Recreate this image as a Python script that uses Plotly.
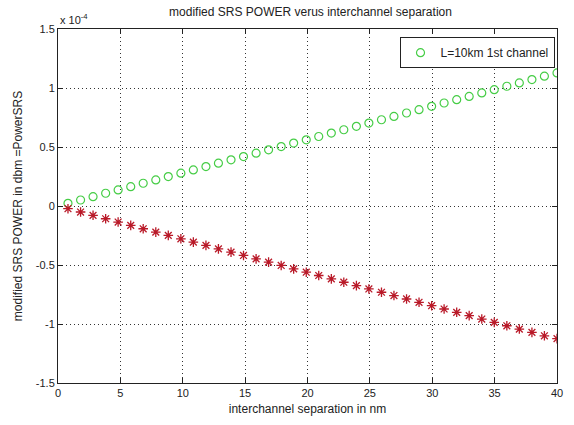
import plotly.graph_objects as go

# x positions (interchannel separation, nm)
separation_nm = [0.80, 1.81, 2.81, 3.82, 4.82, 5.83, 6.83, 7.84, 8.84, 9.85,
                 10.85, 11.86, 12.86, 13.87, 14.87, 15.88, 16.88, 17.89, 18.89, 19.90,
                 20.90, 21.91, 22.91, 23.92, 24.92, 25.93, 26.93, 27.94, 28.94, 29.95,
                 30.95, 31.96, 32.96, 33.97, 34.97, 35.98, 36.98, 37.99, 38.99, 40.00]

# green series (x 1e-4)
power_pos_e4 = [0.023, 0.051, 0.079, 0.108, 0.136, 0.164, 0.193, 0.221, 0.249, 0.278,
                0.306, 0.334, 0.363, 0.391, 0.419, 0.448, 0.476, 0.504, 0.533, 0.561,
                0.589, 0.618, 0.646, 0.675, 0.703, 0.731, 0.759, 0.788, 0.816, 0.845,
                0.873, 0.901, 0.929, 0.958, 0.986, 1.015, 1.043, 1.071, 1.100, 1.128]

# red series (x 1e-4)
power_neg_e4 = [-0.023, -0.051, -0.079, -0.108, -0.136, -0.164, -0.193, -0.221, -0.249, -0.278,
                -0.306, -0.334, -0.363, -0.391, -0.419, -0.448, -0.476, -0.504, -0.533, -0.561,
                -0.589, -0.618, -0.646, -0.675, -0.703, -0.731, -0.759, -0.788, -0.816, -0.845,
                -0.873, -0.901, -0.929, -0.958, -0.986, -1.015, -1.043, -1.071, -1.100, -1.124]

x_ticks = [0, 5, 10, 15, 20, 25, 30, 35, 40]
y_ticks = [-1.5, -1, -0.5, 0, 0.5, 1, 1.5]
y_tick_labels = ["-1.5", "-1", "-0.5", "0", "0.5", "1", "1.5"]

SCALE = 1e-4
pos = [v * SCALE for v in power_pos_e4]
neg = [v * SCALE for v in power_neg_e4]

fig = go.Figure()
fig.add_trace(go.Scatter(
    x=separation_nm, y=pos, mode="markers", name="L=10km 1st channel",
    marker=dict(symbol="circle-open", size=8, color="rgb(70,205,70)",
                line=dict(width=1.2, color="rgb(70,205,70)")),
))
fig.add_trace(go.Scatter(
    x=separation_nm, y=neg, mode="markers", showlegend=False,
    marker=dict(symbol="asterisk-open", size=8, color="rgb(185,25,40)",
                line=dict(width=1.3, color="rgb(185,25,40)")),
))

font = "Liberation Sans, Arial, sans-serif"
axis_common = dict(
    showline=True, linecolor="#222", linewidth=1, mirror="ticks",
    ticks="inside", ticklen=5, tickcolor="#222",
    showgrid=True, gridcolor="#333", griddash="1px,3px", gridwidth=1,
    zeroline=False, tickfont=dict(family=font, size=11, color="#222"),
    ticklabeloverflow="allow",
)

fig.update_layout(
    width=574, height=425,
    margin=dict(l=58, r=11, t=29, b=42),
    paper_bgcolor="white", plot_bgcolor="white",
    title=dict(text="modified SRS POWER verus interchannel separation",
               x=(58 + 563) / 2 / 574, xanchor="center", y=1 - 12 / 425, yanchor="middle",
               font=dict(family=font, size=12, color="#222")),
    xaxis=dict(range=[0, 40], tickvals=x_ticks,
               title=dict(text="interchannel separation in nm", standoff=6,
                          font=dict(family=font, size=12, color="#222")),
               **axis_common),
    yaxis=dict(range=[-1.5 * SCALE, 1.5 * SCALE],
               tickvals=[t * SCALE for t in y_ticks], ticktext=y_tick_labels,
               title=dict(text="modified SRS POWER in dbm =PowerSRS", standoff=10,
                          font=dict(family=font, size=12, color="#222")),
               **axis_common),
    legend=dict(x=0.995, xanchor="right", y=0.977, yanchor="top",
                bgcolor="white", bordercolor="#222", borderwidth=1,
                font=dict(family=font, size=12, color="#222")),
    annotations=[dict(text="x 10<sup>-4</sup>", x=0.0, y=1.0, xref="paper",
                      yref="paper", showarrow=False, xanchor="left", yanchor="bottom",
                      yshift=1, font=dict(family=font, size=11, color="#222"))],
)

fig.write_html("out.html", config={"displayModeBar": False},
               post_script="document.body.style.margin='0';")
